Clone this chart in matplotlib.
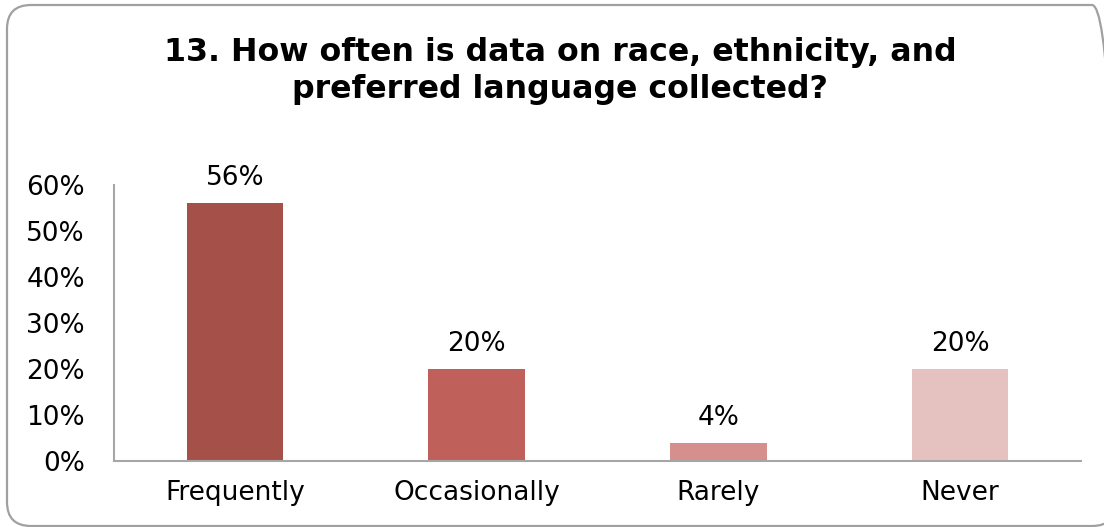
import matplotlib.pyplot as plt
from matplotlib.patches import FancyBboxPatch
from matplotlib.transforms import IdentityTransform

categories = ['Frequently', 'Occasionally', 'Rarely', 'Never']
values = [56, 20, 4, 20]
bar_colors = ['#A5514A', '#C0605A', '#D58F8D', '#E5C2C0']
yticks = [0, 10, 20, 30, 40, 50, 60]

fig = plt.figure(figsize=(11.04, 5.27), dpi=100)

# rounded outer frame in pixel units, running off the right edge
frame = FancyBboxPatch((7, 1), 1109, 521,
                       boxstyle='round,pad=0,rounding_size=24',
                       transform=IdentityTransform(), facecolor='none',
                       edgecolor='#A0A0A0', linewidth=1.6, zorder=-1)
fig.patches.append(frame)

ax = fig.add_axes([114 / 1104, 66 / 527, 967 / 1104, 276 / 527])
ax.patch.set_alpha(0)

x = range(len(categories))
bars = ax.bar(x, values, width=0.4, color=bar_colors, zorder=2)

for b, v in zip(bars, values):
    ax.text(b.get_x() + b.get_width() / 2, v + 3.9, f'{v}%',
            ha='center', va='baseline', fontsize=19, color='black')

ax.set_xlim(-0.5, len(categories) - 0.5)
ax.set_ylim(0, 60)
ax.set_yticks(yticks)
ax.set_yticklabels([f'{t}%' for t in yticks])
ax.set_xticks(list(x))
ax.set_xticklabels(categories)
ax.tick_params(axis='both', length=0, labelsize=19, colors='black')
ax.tick_params(axis='y', pad=21)
ax.tick_params(axis='x', pad=14)

for side in ['top', 'right']:
    ax.spines[side].set_visible(False)
for side in ['left', 'bottom']:
    ax.spines[side].set_color('#A6A6A6')
    ax.spines[side].set_linewidth(1.5)

fig.text(560 / 1104, 1 - 71 / 527,
         '13. How often is data on race, ethnicity, and\npreferred language collected?',
         ha='center', va='center', fontsize=22.8, fontweight='bold',
         linespacing=1.27)

fig.savefig('out.png', dpi=100)
